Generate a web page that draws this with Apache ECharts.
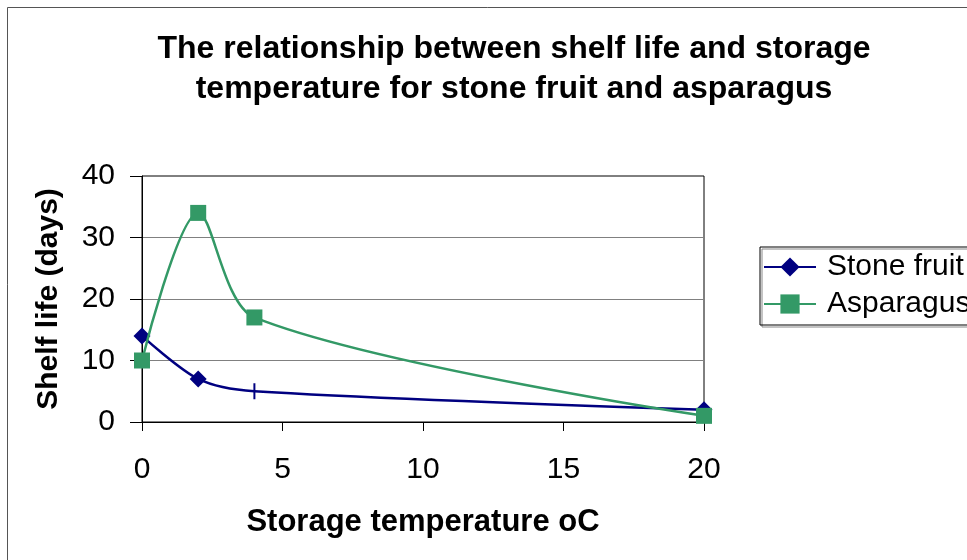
<!DOCTYPE html>
<html>
<head>
<meta charset="utf-8">
<script src="https://cdn.jsdelivr.net/npm/echarts@6/dist/echarts.min.js"></script>
<style>
  html, body { margin: 0; padding: 0; background: #fff; }
  #main { width: 967px; height: 560px; }
</style>
</head>
<body>
<div id="main"></div>
<script>
// data
var temps = [0, 2, 4, 20]
var stoneFruit = [14, 7, 5, 2]
var asparagus = [10, 34, 17, 1]
var xTicks = [0, 5, 10, 15, 20]
var yTicks = [0, 10, 20, 30, 40]

var font = 'Liberation Sans, Arial, sans-serif'

function pairs (xs, ys) {
  return xs.map(function (x, i) { return [x, ys[i]] })
}

var stoneData = pairs(temps, stoneFruit)
// third point in the original shows a thin vertical tick instead of a diamond
stoneData[2] = { value: stoneData[2], symbol: 'rect', symbolSize: [2, 16] }

var myChart = echarts.init(document.getElementById('main'))
myChart.setOption({
  animation: false,
  backgroundColor: '#fff',
  title: {
    text: 'The relationship between shelf life and storage\ntemperature for stone fruit and asparagus',
    left: 514,
    top: 29,
    padding: 0,
    textAlign: 'center',
    textStyle: {
      fontFamily: font,
      fontSize: 32,
      fontWeight: 'bold',
      lineHeight: 40,
      color: '#000'
    }
  },
  graphic: [
    {
      type: 'rect',
      shape: { x: 7.5, y: 7.5, width: 1000, height: 600 },
      style: { fill: null, stroke: '#555', lineWidth: 1 },
      z: -1
    }
  ],
  legend: {
    orient: 'vertical',
    left: 760,
    top: 247,
    padding: [5, 20, 6, 3],
    itemWidth: 52,
    itemHeight: 24,
    itemGap: 7,
    borderColor: '#000',
    borderWidth: 1,
    shadowColor: '#888',
    shadowOffsetX: 2,
    shadowOffsetY: 2,
    textStyle: {
      fontFamily: font,
      fontSize: 30,
      color: '#000',
      padding: [0, 0, 0, 6]
    },
    data: ['Stone fruit', 'Asparagus']
  },
  grid: {
    left: 142,
    right: 263,
    top: 176,
    bottom: 138,
    show: true,
    borderColor: '#000',
    borderWidth: 1
  },
  xAxis: {
    type: 'value',
    min: xTicks[0],
    max: xTicks[xTicks.length - 1],
    interval: 5,
    name: 'Storage temperature oC',
    nameLocation: 'middle',
    nameGap: 85,
    nameTextStyle: { fontFamily: font, fontSize: 31, fontWeight: 'bold', color: '#000' },
    axisLine: { lineStyle: { color: '#000' } },
    axisTick: { show: true, length: 9, lineStyle: { color: '#000' } },
    axisLabel: { margin: 33, fontFamily: font, fontSize: 30, color: '#000' },
    splitLine: { show: false }
  },
  yAxis: {
    type: 'value',
    min: yTicks[0],
    max: yTicks[yTicks.length - 1],
    interval: 10,
    name: 'Shelf life (days)',
    nameLocation: 'middle',
    nameGap: 78,
    nameTextStyle: { fontFamily: font, fontSize: 30, fontWeight: 'bold', color: '#000' },
    axisLine: { show: true, lineStyle: { color: '#000' } },
    axisTick: { show: true, length: 12, lineStyle: { color: '#000' } },
    axisLabel: { margin: 27, fontFamily: font, fontSize: 30, color: '#000' },
    splitLine: { show: true, showMaxLine: false, showMinLine: false, lineStyle: { color: '#808080', width: 1 } }
  },
  series: [
    {
      name: 'Stone fruit',
      type: 'line',
      data: stoneData,
      smooth: 0.3,
      symbol: 'diamond',
      symbolSize: 17,
      showAllSymbol: true,
      itemStyle: { color: '#000080' },
      lineStyle: { color: '#000080', width: 2.5 },
      z: 3
    },
    {
      name: 'Asparagus',
      type: 'line',
      data: pairs(temps, asparagus),
      smooth: 0.3,
      symbol: 'rect',
      symbolSize: 16,
      itemStyle: { color: '#339966' },
      lineStyle: { color: '#339966', width: 2.5 },
      z: 4
    }
  ]
})
</script>
</body>
</html>
